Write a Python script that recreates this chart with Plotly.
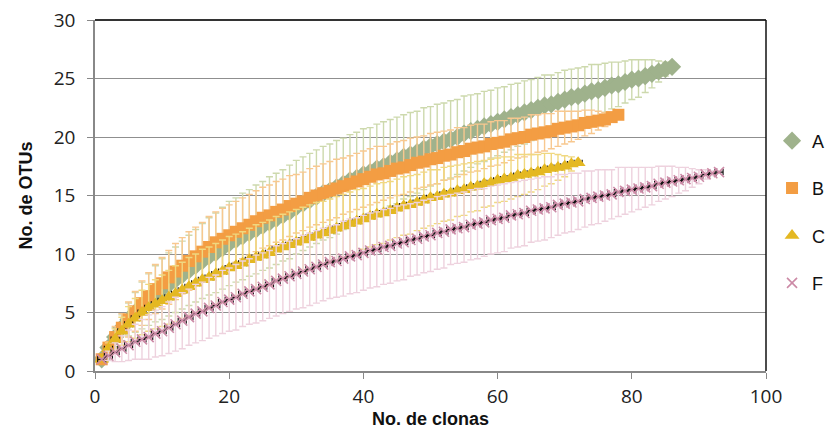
import plotly.graph_objects as go

# ---- data ----
series_names = ["A", "B", "C", "F"]

A_otus = [1.0, 2.0, 2.9, 3.7, 4.4, 5.0, 5.6, 6.1, 6.6, 7.0,
          7.4, 7.8, 8.2, 8.6, 9.0, 9.4, 9.8, 10.1, 10.5, 10.9,
          11.2, 11.5, 11.8, 12.1, 12.4, 12.7, 13.0, 13.3, 13.6, 14.0,
          14.3, 14.6, 14.9, 15.2, 15.4, 15.7, 16.0, 16.3, 16.5, 16.8,
          17.0, 17.3, 17.5, 17.8, 18.0, 18.3, 18.5, 18.7, 19.0, 19.2,
          19.4, 19.6, 19.8, 20.0, 20.3, 20.5, 20.7, 20.9, 21.1, 21.3,
          21.5, 21.7, 21.9, 22.1, 22.3, 22.5, 22.7, 22.8, 23.0, 23.2,
          23.4, 23.5, 23.7, 23.9, 24.0, 24.2, 24.4, 24.5, 24.7, 24.9,
          25.0, 25.2, 25.4, 25.6, 25.8, 26.0]
A_sd = [0.0, 0.4, 0.8, 1.1, 1.4, 1.7, 2.0, 2.2, 2.4, 2.6,
        2.7, 2.8, 2.9, 3.0, 3.1, 3.2, 3.3, 3.4, 3.5, 3.6,
        3.6, 3.7, 3.7, 3.8, 3.8, 3.9, 3.9, 3.9, 4.0, 4.0,
        4.0, 4.0, 4.0, 4.0, 4.0, 4.0, 3.9, 3.9, 3.9, 3.9,
        3.8, 3.8, 3.8, 3.7, 3.7, 3.6, 3.6, 3.5, 3.5, 3.4,
        3.4, 3.3, 3.3, 3.2, 3.2, 3.1, 3.0, 3.0, 2.9, 2.9,
        2.8, 2.8, 2.7, 2.7, 2.6, 2.6, 2.6, 2.5, 2.5, 2.5,
        2.4, 2.4, 2.3, 2.3, 2.2, 2.1, 2.0, 1.9, 1.8, 1.7,
        1.6, 1.4, 1.2, 0.9, 0.6, 0.0]

B_otus = [1.0, 2.0, 2.9, 3.7, 4.4, 5.1, 5.8, 6.4, 7.0, 7.5,
          8.0, 8.5, 9.0, 9.4, 9.8, 10.2, 10.6, 11.0, 11.3, 11.6,
          11.9, 12.2, 12.5, 12.8, 13.1, 13.3, 13.6, 13.8, 14.1, 14.3,
          14.5, 14.8, 15.0, 15.2, 15.4, 15.6, 15.8, 16.0, 16.2, 16.4,
          16.6, 16.8, 16.9, 17.1, 17.3, 17.4, 17.6, 17.8, 17.9, 18.1,
          18.2, 18.4, 18.5, 18.7, 18.8, 19.0, 19.1, 19.2, 19.4, 19.5,
          19.6, 19.8, 19.9, 20.0, 20.2, 20.3, 20.4, 20.5, 20.7, 20.8,
          20.9, 21.0, 21.2, 21.3, 21.4, 21.5, 21.7, 21.9]
B_sd = [0.0, 0.5, 0.9, 1.2, 1.5, 1.7, 1.9, 2.0, 2.1, 2.2,
        2.3, 2.4, 2.4, 2.5, 2.5, 2.5, 2.6, 2.6, 2.6, 2.6,
        2.6, 2.6, 2.6, 2.6, 2.6, 2.6, 2.6, 2.6, 2.6, 2.5,
        2.5, 2.5, 2.5, 2.5, 2.5, 2.5, 2.4, 2.4, 2.4, 2.4,
        2.4, 2.4, 2.3, 2.3, 2.3, 2.3, 2.3, 2.2, 2.2, 2.2,
        2.2, 2.1, 2.1, 2.1, 2.0, 2.0, 2.0, 1.9, 1.9, 1.9,
        1.8, 1.8, 1.7, 1.7, 1.7, 1.6, 1.6, 1.5, 1.5, 1.4,
        1.3, 1.2, 1.1, 1.0, 0.8, 0.6, 0.4, 0.0]

C_otus = [1.0, 1.9, 2.7, 3.4, 4.0, 4.5, 5.0, 5.4, 5.7, 6.0,
          6.3, 6.6, 6.9, 7.2, 7.5, 7.8, 8.0, 8.3, 8.5, 8.8,
          9.0, 9.2, 9.5, 9.7, 9.9, 10.1, 10.4, 10.6, 10.8, 11.0,
          11.2, 11.4, 11.6, 11.8, 12.0, 12.2, 12.4, 12.6, 12.8, 13.0,
          13.2, 13.4, 13.5, 13.7, 13.9, 14.1, 14.2, 14.4, 14.6, 14.8,
          14.9, 15.1, 15.2, 15.4, 15.5, 15.7, 15.8, 16.0, 16.1, 16.3,
          16.4, 16.5, 16.7, 16.8, 16.9, 17.0, 17.2, 17.3, 17.4, 17.5,
          17.7, 17.8]
C_sd = [0.0, 0.5, 0.9, 1.2, 1.5, 1.7, 1.9, 2.0, 2.1, 2.2,
        2.3, 2.4, 2.4, 2.5, 2.5, 2.6, 2.6, 2.6, 2.7, 2.7,
        2.7, 2.7, 2.7, 2.8, 2.8, 2.8, 2.8, 2.8, 2.8, 2.8,
        2.8, 2.8, 2.8, 2.7, 2.7, 2.7, 2.7, 2.7, 2.7, 2.6,
        2.6, 2.6, 2.6, 2.5, 2.5, 2.5, 2.5, 2.4, 2.4, 2.4,
        2.3, 2.3, 2.3, 2.2, 2.2, 2.1, 2.1, 2.0, 2.0, 1.9,
        1.9, 1.8, 1.8, 1.7, 1.6, 1.5, 1.4, 1.3, 1.1, 0.9,
        0.6, 0.0]

F_otus = [1.0, 1.3, 1.6, 1.9, 2.2, 2.5, 2.7, 2.9, 3.2, 3.4,
          3.7, 4.0, 4.3, 4.6, 4.9, 5.1, 5.4, 5.6, 5.9, 6.1,
          6.3, 6.6, 6.8, 7.0, 7.2, 7.4, 7.7, 7.9, 8.1, 8.3,
          8.5, 8.7, 8.9, 9.1, 9.3, 9.4, 9.6, 9.8, 9.9, 10.1,
          10.3, 10.4, 10.6, 10.7, 10.9, 11.0, 11.2, 11.3, 11.5, 11.6,
          11.8, 11.9, 12.1, 12.2, 12.3, 12.5, 12.6, 12.7, 12.9, 13.0,
          13.1, 13.3, 13.4, 13.5, 13.7, 13.8, 13.9, 14.0, 14.2, 14.3,
          14.4, 14.5, 14.7, 14.8, 14.9, 15.0, 15.1, 15.3, 15.4, 15.5,
          15.6, 15.7, 15.8, 16.0, 16.1, 16.2, 16.3, 16.4, 16.5, 16.6,
          16.8, 16.9, 17.0]
F_sd = [0.0, 0.4, 0.8, 1.1, 1.3, 1.5, 1.7, 1.9, 2.0, 2.1,
        2.2, 2.3, 2.4, 2.4, 2.5, 2.5, 2.6, 2.6, 2.7, 2.7,
        2.8, 2.8, 2.8, 2.9, 2.9, 2.9, 3.0, 3.0, 3.0, 3.0,
        3.1, 3.1, 3.1, 3.1, 3.1, 3.1, 3.2, 3.2, 3.2, 3.2,
        3.2, 3.2, 3.2, 3.2, 3.2, 3.2, 3.1, 3.1, 3.1, 3.1,
        3.1, 3.1, 3.0, 3.0, 3.0, 3.0, 3.0, 2.9, 2.9, 2.9,
        2.9, 2.8, 2.8, 2.8, 2.7, 2.7, 2.7, 2.6, 2.6, 2.5,
        2.5, 2.4, 2.4, 2.3, 2.3, 2.2, 2.1, 2.1, 2.0, 1.9,
        1.8, 1.7, 1.6, 1.5, 1.4, 1.3, 1.1, 1.0, 0.8, 0.6,
        0.4, 0.2, 0.0]

x_sd = 0.6  # small horizontal (black) error bar seen at series ends

x_ticks = [0, 20, 40, 60, 80, 100]
y_ticks = [0, 5, 10, 15, 20, 25, 30]

# ---- styles ----
styles = {
    "A": dict(symbol="diamond", size=14, color="#9fb28c", line=None,
              err="#cdd9ad", xerr=True),
    "B": dict(symbol="square", size=12, color="#f39d43", line=None,
              err="#f8c88f", xerr=False),
    "C": dict(symbol="triangle-up", size=13, color="#e4b822", line=None,
              err="#f0d880", xerr=True),
    "F": dict(symbol="x-thin", size=10, color="#cc8aa6", line=1.6,
              err="#eed2de", xerr=True),
}

data = {"A": (A_otus, A_sd), "B": (B_otus, B_sd),
        "C": (C_otus, C_sd), "F": (F_otus, F_sd)}

fig = go.Figure()
for name in series_names:
    yv, sd = data[name]
    xv = list(range(1, len(yv) + 1))
    st = styles[name]
    marker = dict(symbol=st["symbol"], size=st["size"], color=st["color"])
    if st["line"]:
        marker["line"] = dict(color=st["color"], width=st["line"])
    else:
        marker["line"] = dict(width=0)
    tr = dict(
        x=xv, y=yv, mode="markers", name=name, legendgroup=name,
        marker=marker,
        error_y=dict(type="data", array=sd, visible=True,
                     color=st["err"], thickness=1.4, width=3.5),
    )
    if st["xerr"]:
        tr["error_x"] = dict(type="constant", value=x_sd, visible=True,
                             color="#111111", thickness=1.2, width=3)
    fig.add_trace(go.Scatter(**tr))

tick_font = dict(family="Open Sans, Noto Sans, sans-serif", size=19, color="#222")
title_font = dict(family="Liberation Sans, Arial, sans-serif", size=18, color="#111")

fig.update_layout(
    width=825, height=430,
    margin=dict(l=95, r=59, t=20, b=59, autoexpand=False),
    paper_bgcolor="white", plot_bgcolor="white",
    showlegend=True,
    legend=dict(x=1.009, y=0.708, xanchor="left", yanchor="top",
                font=dict(family="Liberation Sans, Arial, sans-serif", size=18, color="#111"),
                tracegroupgap=21, itemwidth=30, bgcolor="rgba(0,0,0,0)"),
    xaxis=dict(range=[0, 100], tickvals=x_ticks, ticks="outside", ticklen=6,
               tickcolor="#888", showline=True, linecolor="#888", linewidth=1.5,
               showgrid=False, zeroline=False, tickfont=tick_font, automargin=False,
               ticklabelstandoff=1,
               title=dict(text="<b>No. de clonas</b>", font=title_font, standoff=4)),
    yaxis=dict(range=[0, 30], tickvals=y_ticks, ticks="outside", ticklen=6,
               tickcolor="#888", showline=True, linecolor="#888", linewidth=1.5,
               showgrid=True, gridcolor="#8f8f8f", gridwidth=1.2,
               zeroline=False, tickfont=tick_font, automargin=False,
               ticklabelstandoff=8, ticklabeloverflow="allow",
               title=dict(text="<b>No. de OTUs</b>", font=title_font, standoff=16)),
    shapes=[
        dict(type="line", xref="paper", yref="paper", x0=0, x1=1, y0=1, y1=1,
             line=dict(color="#333", width=2)),
        dict(type="line", xref="paper", yref="paper", x0=1, x1=1, y0=0, y1=1,
             line=dict(color="#111", width=1.5)),
    ],
)

# remove the browser's default 8px body margin so the 825x430 figure fills the window
fig.write_html(
    "out.html",
    config={"displayModeBar": False},
    post_script="document.documentElement.style.margin='0';"
                "document.body.style.margin='0';"
                "document.body.style.overflow='hidden';",
)
